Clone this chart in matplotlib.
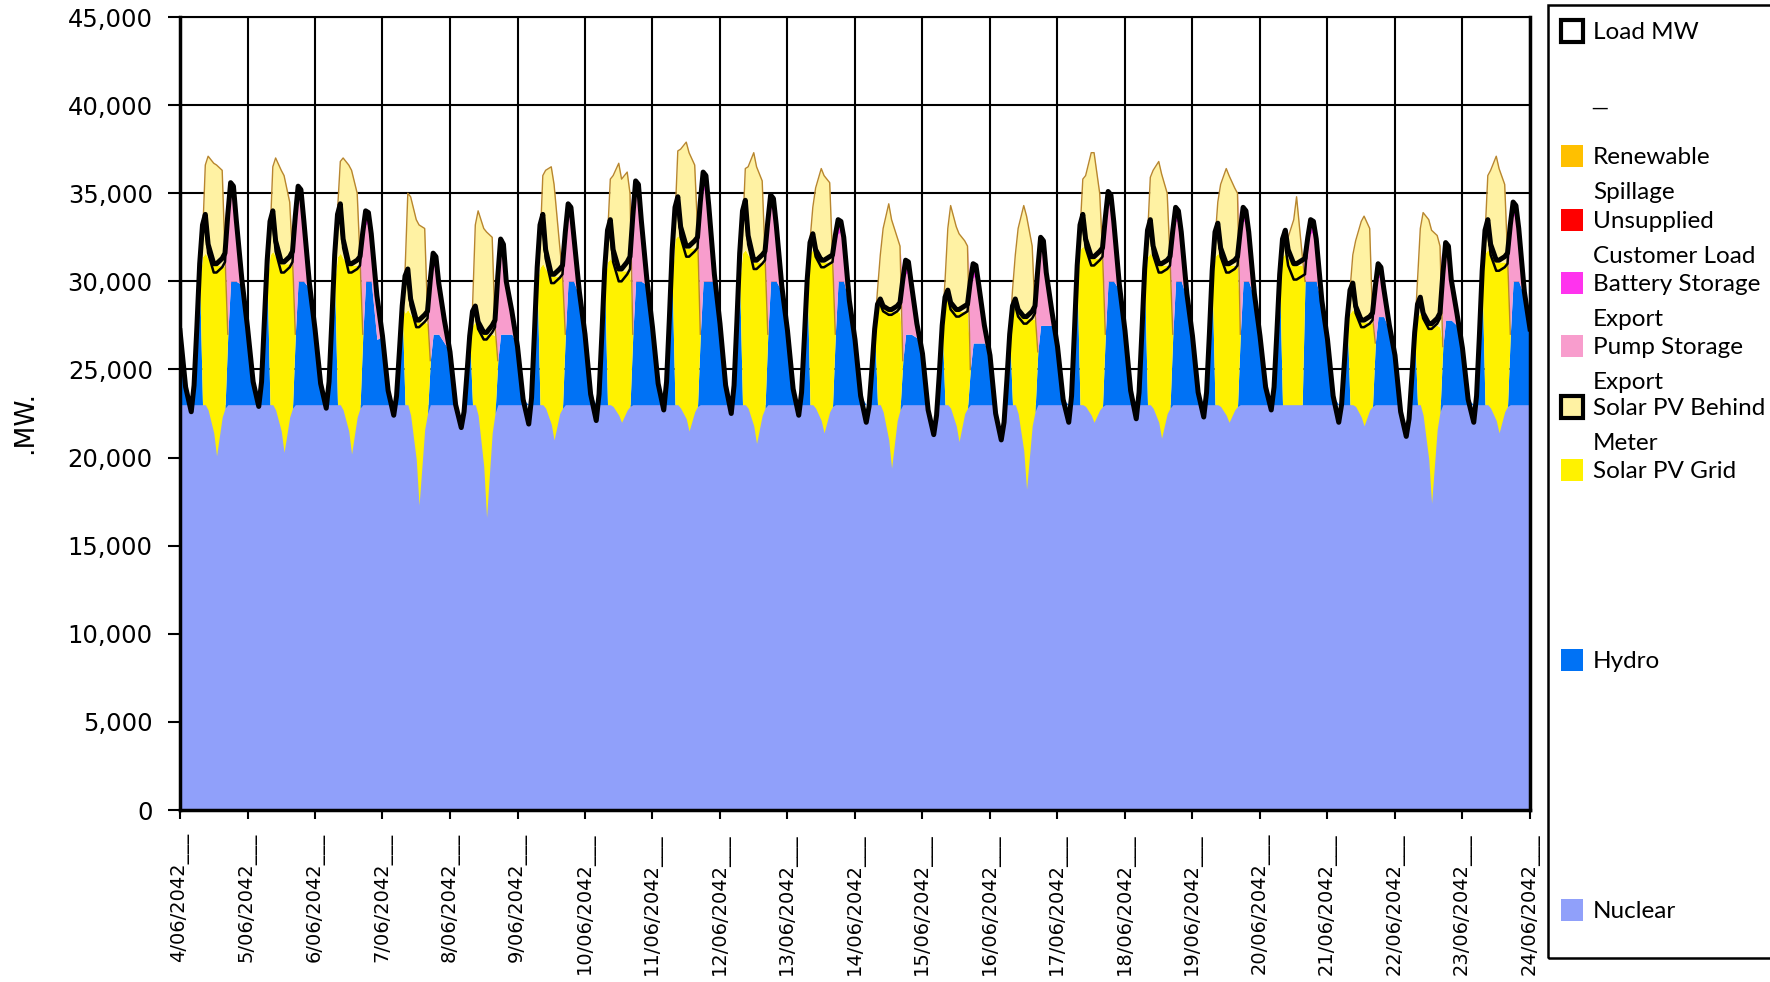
import numpy as np
import matplotlib.pyplot as plt
from matplotlib.patches import Rectangle

# hourly dispatch, 4/06/2042 - 24/06/2042, values in MW
DATES = [f"{d}/06/2042" for d in range(4, 25)]
HOURS = [0, 2, 4, 5, 6, 7, 8, 9, 10, 12, 13, 15, 16, 17, 18, 19, 20, 22]
MID_HOURS = [8, 9, 10, 12, 13, 15, 16]
EVE_HOURS = [16, 17, 18, 19, 20, 22]

NUCLEAR_MW = 23000

LOAD = [
    [27200, 24000, 22600, 24100, 27400, 31000, 33200, 33800, 32100, 31000, 31000, 31300, 31600, 33800, 35600, 35400, 33500, 30100],
    [27400, 24300, 22900, 24300, 27700, 31200, 33400, 34000, 32300, 31100, 31100, 31400, 31700, 33700, 35400, 35200, 33500, 29900],
    [27300, 24200, 22800, 24300, 27800, 31500, 33800, 34400, 32400, 31000, 31000, 31200, 31400, 32800, 34000, 33900, 32700, 29200],
    [26900, 23800, 22400, 23500, 26000, 28600, 30300, 30700, 29000, 27800, 27800, 28100, 28300, 30100, 31600, 31400, 29900, 27800],
    [26000, 23000, 21700, 22600, 24700, 26900, 28300, 28600, 27700, 27100, 27100, 27500, 27800, 30300, 32400, 32100, 30000, 28300],
    [26300, 23300, 21900, 23400, 27000, 30800, 33200, 33800, 31800, 30400, 30400, 30700, 30900, 32800, 34400, 34200, 32600, 29400],
    [27000, 23600, 22100, 23600, 27000, 30700, 32900, 33500, 31800, 30700, 30700, 31100, 31400, 33700, 35700, 35500, 33500, 30100],
    [27400, 24200, 22700, 24300, 27900, 31800, 34200, 34800, 33100, 32000, 32000, 32300, 32500, 34500, 36200, 36000, 34300, 30400],
    [27600, 24100, 22500, 24100, 27700, 31600, 34000, 34600, 32600, 31200, 31200, 31500, 31700, 33400, 34900, 34700, 33200, 29700],
    [27200, 23900, 22400, 23700, 26800, 30100, 32200, 32700, 31800, 31200, 31200, 31400, 31500, 32600, 33500, 33400, 32500, 28900],
    [26700, 23500, 22000, 22900, 25000, 27300, 28700, 29000, 28600, 28400, 28400, 28600, 28800, 30100, 31200, 31100, 29900, 27600],
    [25900, 22700, 21300, 22400, 24800, 27500, 29100, 29500, 28800, 28400, 28400, 28600, 28700, 30000, 31000, 30900, 29800, 27500],
    [25800, 22500, 21000, 22000, 24400, 27000, 28600, 29000, 28400, 28000, 28000, 28300, 28600, 30700, 32500, 32300, 30500, 28300],
    [26300, 23300, 22000, 23500, 27100, 30900, 33200, 33800, 32400, 31400, 31400, 31700, 31900, 33600, 35100, 34900, 33400, 29800],
    [27200, 23800, 22200, 23700, 27100, 30700, 32900, 33500, 32000, 31000, 31000, 31200, 31400, 32900, 34200, 34000, 32800, 29300],
    [26900, 23700, 22300, 23700, 27000, 30600, 32800, 33300, 31900, 31000, 31000, 31200, 31400, 32900, 34200, 34000, 32800, 29300],
    [26900, 24000, 22700, 24000, 27100, 30400, 32400, 32900, 31800, 31000, 31000, 31200, 31300, 32500, 33500, 33400, 32400, 28900],
    [26700, 23500, 22000, 23000, 25400, 27900, 29500, 29900, 28600, 27800, 27800, 28000, 28200, 29700, 31000, 30800, 29600, 27500],
    [25800, 22600, 21200, 22200, 24600, 27100, 28700, 29100, 28200, 27600, 27600, 27900, 28200, 30400, 32200, 32000, 30100, 28200],
    [26200, 23300, 22000, 23500, 26900, 30600, 32900, 33500, 32100, 31200, 31200, 31400, 31600, 33200, 34500, 34300, 33000, 29400],
]
LOAD_END = 27300

# gap between the two load traces during daylight hours
LOAD_GAP = [500, 600, 500, 400, 400, 500, 700, 600, 500, 400, 300, 400, 400, 500, 500, 500, 900, 400, 300, 600]

HYDRO = [
    [4200, 1000, 0, 1100, 4400, 7000, 0, 0, 0, 0, 0, 0, 0, 4000, 7000, 7000, 7000, 6800],
    [4400, 1300, 0, 1300, 4700, 7000, 0, 0, 0, 0, 0, 0, 0, 4000, 7000, 7000, 7000, 6600],
    [4300, 1200, 0, 1300, 4800, 7000, 0, 0, 0, 0, 0, 0, 0, 4000, 7000, 7000, 7000, 3700],
    [3900, 800, 0, 500, 3000, 5600, 0, 0, 0, 0, 0, 0, 0, 2500, 4000, 4000, 4000, 3500],
    [3000, 0, 0, 0, 1700, 3900, 0, 0, 0, 0, 0, 0, 0, 2500, 4000, 4000, 4000, 4000],
    [3300, 300, 0, 400, 4000, 7000, 0, 0, 0, 0, 0, 0, 0, 4000, 7000, 7000, 7000, 6100],
    [4000, 600, 0, 600, 4000, 7000, 0, 0, 0, 0, 0, 0, 0, 4000, 7000, 7000, 7000, 6800],
    [4400, 1200, 0, 1300, 4900, 7000, 0, 0, 0, 0, 0, 0, 0, 4000, 7000, 7000, 7000, 7000],
    [4600, 1100, 0, 1100, 4700, 7000, 0, 0, 0, 0, 0, 0, 0, 4000, 7000, 7000, 7000, 6400],
    [4200, 900, 0, 700, 3800, 7000, 0, 0, 0, 0, 0, 0, 0, 4000, 7000, 7000, 7000, 5600],
    [3700, 500, 0, 0, 2000, 4300, 0, 0, 0, 0, 0, 0, 0, 2500, 4000, 4000, 4000, 3800],
    [2900, 0, 0, 0, 1800, 4500, 0, 0, 0, 0, 0, 0, 0, 2000, 3500, 3500, 3500, 3500],
    [2800, 0, 0, 0, 1400, 4000, 0, 0, 0, 0, 0, 0, 0, 3000, 4500, 4500, 4500, 4500],
    [3300, 300, 0, 500, 4100, 7000, 0, 0, 0, 0, 0, 0, 0, 4000, 7000, 7000, 7000, 6500],
    [4200, 800, 0, 700, 4100, 7000, 0, 0, 0, 0, 0, 0, 0, 4000, 7000, 7000, 7000, 6000],
    [3900, 700, 0, 700, 4000, 7000, 0, 0, 0, 0, 0, 0, 0, 4000, 7000, 7000, 7000, 6000],
    [3900, 1000, 0, 1000, 4100, 7000, 0, 0, 0, 0, 0, 0, 7000, 7000, 7000, 7000, 7000, 5600],
    [3700, 500, 0, 0, 2400, 4900, 0, 0, 0, 0, 0, 0, 0, 3500, 5000, 5000, 5000, 4200],
    [2800, 0, 0, 0, 1600, 4100, 0, 0, 0, 0, 0, 0, 0, 3300, 4800, 4800, 4800, 4500],
    [3200, 300, 0, 500, 3900, 7000, 0, 0, 0, 0, 0, 0, 0, 4000, 7000, 7000, 7000, 6100],
]
HYDRO_END = 4300

SOLAR_GRID = [
    [8400, 8600, 8600, 9500, 10800, 8600, 8000],
    [8500, 8700, 8700, 9500, 10700, 8700, 8100],
    [8400, 8600, 8600, 9400, 10700, 8600, 8000],
    [5200, 5400, 5700, 7800, 10400, 6100, 5100],
    [4500, 4700, 5000, 7500, 10400, 5600, 4400],
    [7800, 8000, 7900, 8400, 9300, 7800, 7400],
    [8100, 8300, 8100, 8200, 8600, 7900, 7600],
    [9400, 9600, 9500, 9700, 10400, 9300, 8900],
    [8600, 8800, 8700, 9300, 10300, 8700, 8200],
    [8600, 8800, 8700, 9000, 9700, 8500, 8100],
    [5800, 6000, 6100, 7300, 8900, 6200, 5500],
    [5800, 6000, 5900, 6500, 7400, 5800, 5400],
    [5400, 5600, 5800, 7500, 9700, 6100, 5200],
    [8800, 9000, 8800, 8900, 9300, 8600, 8300],
    [8400, 8600, 8500, 8900, 9800, 8400, 8000],
    [8400, 8600, 8400, 8500, 8900, 8200, 7900],
    [8400, 8600, 8300, 8000, 7900, 7900, 0],
    [5200, 5400, 5200, 5400, 5900, 5000, 4700],
    [5000, 5200, 5500, 7600, 10100, 5900, 4800],
    [8600, 8800, 8700, 9000, 9700, 8500, 8100],
]

SOLAR_BTM = [
    [1000, 5000, 5800, 5800, 5700, 5400, 700],
    [1000, 4800, 5600, 5300, 5000, 3500, 500],
    [2600, 5200, 5700, 5700, 5400, 4100, 500],
    [2300, 6600, 6700, 5800, 5500, 5300, 600],
    [1000, 5500, 6600, 6000, 5800, 5500, 600],
    [1200, 5000, 5600, 6200, 5200, 1700, 200],
    [1400, 4500, 5000, 6100, 5200, 5600, 4500],
    [1100, 4800, 5200, 6000, 5400, 4700, 1200],
    [1000, 4600, 5000, 6200, 5400, 4600, 500],
    [700, 2400, 3800, 5300, 4900, 4500, 400],
    [700, 2500, 4300, 6100, 5200, 4200, 3800],
    [1200, 4000, 5600, 4800, 4400, 4000, 3800],
    [1100, 2900, 4700, 6400, 5800, 4100, 500],
    [1000, 3800, 4300, 6000, 6000, 3700, 500],
    [1100, 4300, 5000, 5900, 5200, 4100, 500],
    [900, 2900, 4200, 5500, 5100, 4400, 4200],
    [500, 700, 1200, 2500, 3900, 600, 0],
    [1300, 3100, 4200, 5700, 6000, 5300, 400],
    [2000, 4800, 6000, 6000, 5400, 5100, 4600],
    [1000, 4200, 4800, 6000, 5300, 4400, 500],
]

# storage charging, drawn as a negative series under the solar block
CHARGING = [
    [0, 0, 300, 1600, 2900, 700, 200],
    [0, 0, 300, 1500, 2700, 700, 200],
    [0, 0, 300, 1500, 2800, 700, 200],
    [0, 0, 600, 3100, 5700, 1400, 500],
    [0, 0, 600, 3500, 6400, 1600, 500],
    [0, 0, 200, 1100, 2000, 500, 200],
    [0, 0, 100, 600, 1000, 300, 100],
    [0, 0, 200, 800, 1500, 400, 100],
    [0, 0, 200, 1200, 2200, 600, 200],
    [0, 0, 200, 900, 1600, 400, 100],
    [0, 0, 400, 2000, 3600, 900, 300],
    [0, 0, 200, 1200, 2100, 500, 200],
    [0, 0, 500, 2600, 4800, 1200, 400],
    [0, 0, 100, 600, 1000, 300, 100],
    [0, 0, 200, 1000, 1900, 500, 200],
    [0, 0, 100, 600, 1000, 300, 100],
    [0, 0, 0, 0, 0, 0, 0],
    [0, 0, 100, 700, 1200, 300, 100],
    [0, 0, 600, 3100, 5600, 1400, 400],
    [0, 0, 200, 900, 1600, 400, 100],
]

PUMP_EXPORT = [
    [0, 6300, 4800, 4800, 3200, 300],
    [0, 6200, 4600, 4600, 3200, 300],
    [0, 5300, 3200, 3300, 2400, 2200],
    [0, 4100, 3800, 3800, 2600, 1000],
    [0, 4300, 4600, 4500, 2700, 1000],
    [0, 5300, 3600, 3600, 2300, 300],
    [0, 6200, 4900, 4900, 3200, 300],
    [0, 7000, 5100, 5300, 4000, 400],
    [0, 5900, 4100, 4100, 2900, 300],
    [0, 5100, 2700, 2800, 2200, 300],
    [0, 4100, 3400, 3500, 2600, 500],
    [0, 4500, 3700, 3800, 3000, 700],
    [0, 4200, 4200, 4200, 2700, 500],
    [0, 6100, 4300, 4300, 3100, 300],
    [0, 5400, 3400, 3400, 2500, 300],
    [0, 5400, 3400, 3400, 2500, 300],
    [1000, 2000, 2700, 2800, 2100, 300],
    [0, 2700, 2200, 2200, 1300, 0],
    [0, 3600, 3600, 3600, 2000, 400],
    [0, 5700, 3700, 3700, 2700, 300],
]

BATTERY_EXPORT = [[0, 200, 500, 300, 0, 0]] * 7 + [[0, 300, 800, 400, 0, 0]] + [[0, 200, 500, 300, 0, 0]] * 12

NUCLEAR_C = '#90a0fa'
HYDRO_C = '#0072f5'
SOLAR_C = '#fff200'
BTM_C = '#fff2a3'
BTM_EDGE = '#b8862e'
PUMP_C = '#f89dcd'
BATT_C = '#ff33ee'
SPILL_C = '#ffc000'
UNSUP_C = '#ff0000'

W, H = 1770, 982
n_days = len(LOAD)
col = {h: i for i, h in enumerate(HOURS)}


def on_grid(rows, hours):
    out = np.zeros((len(rows), len(HOURS)))
    for j, h in enumerate(hours):
        out[:, col[h]] = [r[j] for r in rows]
    return out


def series(rows, end=0.0):
    return np.append(np.asarray(rows, float).ravel(), end)


t = np.append((np.arange(n_days)[:, None] + np.array(HOURS)[None, :] / 24.0).ravel(), n_days)
load = series(LOAD, LOAD_END)
hydro = series(HYDRO, HYDRO_END)
solar = series(on_grid(SOLAR_GRID, MID_HOURS))
btm = series(on_grid(SOLAR_BTM, MID_HOURS))
charge = series(on_grid(CHARGING, MID_HOURS))
pump = series(on_grid(PUMP_EXPORT, EVE_HOURS))
batt = series(on_grid(BATTERY_EXPORT, EVE_HOURS))
gap_hours = [9, 10, 12, 13, 15, 16]
gap = series(on_grid([[g] * len(gap_hours) for g in LOAD_GAP], gap_hours))

# stacked boundaries
base = NUCLEAR_MW - charge
top_hydro = base + hydro
top_solar = top_hydro + solar
top_btm = top_solar + btm
top_pump = top_btm + pump
top_batt = top_pump + batt

fig = plt.figure(figsize=(W / 100, H / 100), dpi=100)
ax = fig.add_axes([180 / W, 1 - 810 / H, 1350 / W, 793 / H])

ax.fill_between(t, 0, np.full_like(t, NUCLEAR_MW), color=NUCLEAR_C, lw=0)
ax.fill_between(t, load, NUCLEAR_MW, where=load < NUCLEAR_MW, interpolate=True, color='white', lw=0)
ax.fill_between(t, base, top_hydro, color=HYDRO_C, lw=0)
ax.fill_between(t, top_hydro, top_solar, color=SOLAR_C, lw=0)
ax.fill_between(t, top_solar, top_btm, color=BTM_C, lw=0)
lit = btm > 0
lit = lit | np.roll(lit, 1) | np.roll(lit, -1)
ax.plot(t, np.where(lit, top_btm, np.nan), color=BTM_EDGE, lw=1.0)
ax.fill_between(t, top_btm, top_pump, color=PUMP_C, lw=0)
ax.fill_between(t, top_pump, top_batt, color=BATT_C, lw=0)

ax.plot(t, load - gap, color='black', lw=1.8, solid_joinstyle='round')
ax.plot(t, load, color='black', lw=3.6, solid_joinstyle='round')

ax.set_xlim(0, n_days)
ax.set_ylim(0, 45000)
ax.set_axisbelow(True)
ax.grid(True, color='black', lw=1.5)
ax.set_xticks(range(n_days + 1))
ax.set_xticklabels([d + '___' for d in DATES], rotation=90, fontsize=14)
ax.set_yticks(range(0, 45001, 5000))
ax.set_yticklabels([f'{v:,}' for v in range(0, 45001, 5000)], fontsize=17.5)
ax.tick_params(axis='y', length=8.6, width=1.5, pad=11)
ax.tick_params(axis='x', length=6.5, width=1.5, pad=10)
for side in ['left', 'bottom', 'right']:
    ax.spines[side].set_linewidth(2.5)
ax.spines['top'].set_linewidth(1.5)

fig.text(25 / W, 1 - 423 / H, '.MW.', rotation=90, ha='center', va='center', fontsize=19)

# legend panel
fig.add_artist(Rectangle((1548 / W, 1 - 958 / H), (W - 1540) / W, 953 / H,
                         transform=fig.transFigure, fill=False, ec='black', lw=1.8))


def legend_entry(y, lines, color=None, edge=False):
    if color is not None:
        fig.add_artist(Rectangle((1561 / W, 1 - (y + 11) / H), 22 / W, 22 / H,
                                 transform=fig.transFigure, fc=color,
                                 ec='black' if edge else color, lw=3 if edge else 0))
    for k, line in enumerate(lines):
        fig.text(1593 / W, 1 - (y + 8 + 35 * k) / H, line, fontsize=17.5,
                 family='Lato', va='baseline')


legend_entry(31, ['Load MW'], 'white', edge=True)
fig.text(1600 / W, 1 - 108 / H, '\u2014', ha='center', va='center', fontsize=12)
legend_entry(156, ['Renewable', 'Spillage'], SPILL_C)
legend_entry(220, ['Unsupplied', 'Customer Load'], UNSUP_C)
legend_entry(283, ['Battery Storage', 'Export'], BATT_C)
legend_entry(346, ['Pump Storage', 'Export'], PUMP_C)
legend_entry(407, ['Solar PV Behind', 'Meter'], BTM_C, edge=True)
legend_entry(470, ['Solar PV Grid'], SOLAR_C)
legend_entry(660, ['Hydro'], HYDRO_C)
legend_entry(910, ['Nuclear'], NUCLEAR_C)

fig.savefig('out.png', dpi=100)
